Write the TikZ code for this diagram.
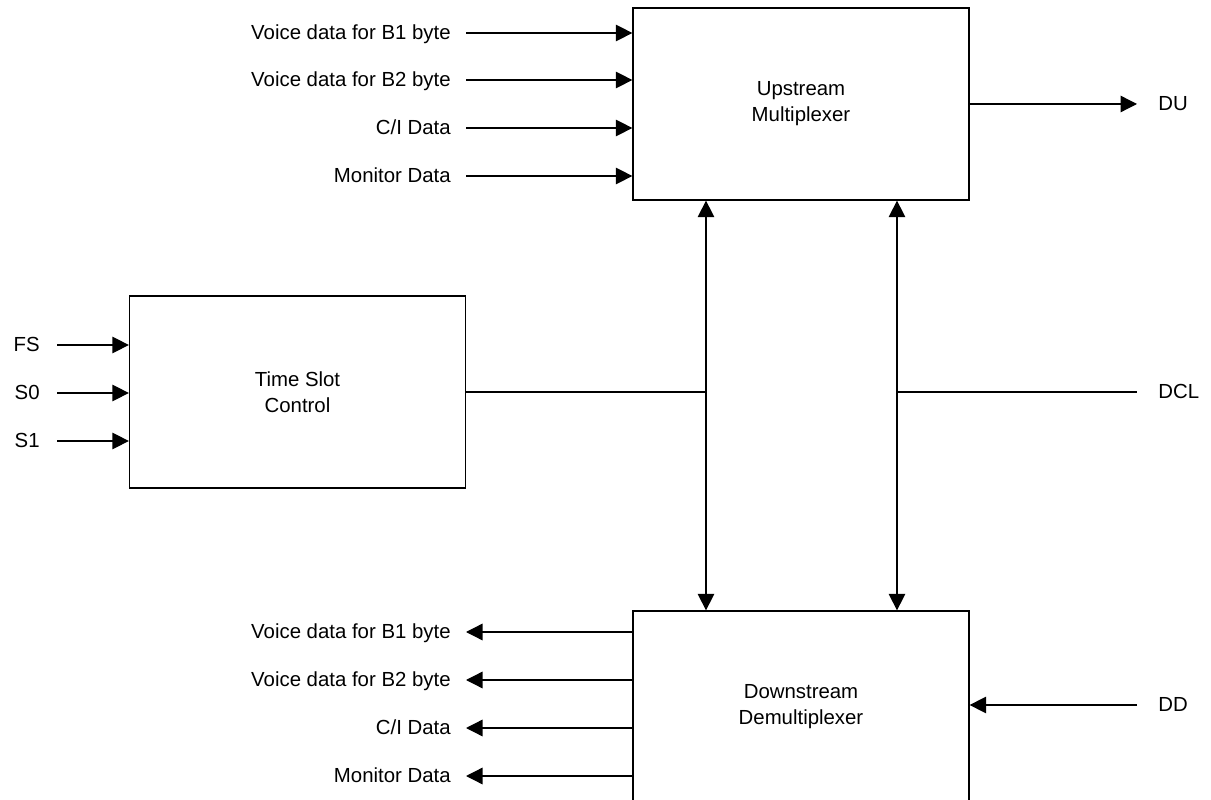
\documentclass[tikz,border=0pt]{standalone}
\usepackage{fontspec}
\setmainfont{Liberation Sans}
\usetikzlibrary{arrows.meta}
\usetikzlibrary{positioning}

\tikzset{
  blk/.style={draw, line width=0.75pt, minimum width=6.72cm, minimum height=3.84cm, align=center, inner sep=0pt},
  wire/.style={line width=0.75pt},
  sig/.style={wire, -{Triangle[length=3.3mm, width=3.3mm]}},
  bus/.style={wire, {Triangle[length=3.3mm, width=3.3mm]}-{Triangle[length=3.3mm, width=3.3mm]}},
  inl/.style={anchor=east, inner ysep=0pt, inner xsep=0.3cm, text height=0.72em, text depth=0pt},
  ctl/.style={anchor=east, inner ysep=0pt, inner xsep=0.34cm, text height=0.72em, text depth=0pt},
  outl/.style={anchor=west, inner ysep=0pt, inner xsep=0.42cm, text height=0.72em, text depth=0pt},
}

\begin{document}
\begin{tikzpicture}[x=0.02cm, y=-0.02cm, font=\fontsize{11.6}{14.8}\selectfont]
\useasboundingbox (0,0) rectangle (1211,800);

\node[blk] (mux) at (801,104) {Upstream\\Multiplexer};
\node[blk] (tsc) at (297.5,392) {Time Slot\\Control};
\node[blk] (dmx) at (801,707) {Downstream\\Demultiplexer};

% upstream inputs
\node[inl] (ub1) at (466,33) {Voice data for B1 byte};
\node[inl] (ub2) at (466,80) {Voice data for B2 byte};
\node[inl] (uci) at (466,128) {C/I Data};
\node[inl] (umon) at (466,176) {Monitor Data};
\draw[sig] (ub1.east) -- (mux.west |- ub1.east);
\draw[sig] (ub2.east) -- (mux.west |- ub2.east);
\draw[sig] (uci.east) -- (mux.west |- uci.east);
\draw[sig] (umon.east) -- (mux.west |- umon.east);

\node[outl] (du) at (1137,104) {DU};
\draw[sig] (mux.east) -- (du.west);

% time slot control
\node[ctl] (fs) at (57,345) {FS};
\node[ctl] (s0) at (57,393) {S0};
\node[ctl] (s1) at (57,441) {S1};
\draw[sig] (fs.east) -- (tsc.west |- fs.east);
\draw[sig] (s0.east) -- (tsc.west |- s0.east);
\draw[sig] (s1.east) -- (tsc.west |- s1.east);

\coordinate (ja) at (706,392);
\coordinate (jb) at (897,392);
\node[outl] (dcl) at (1137,392) {DCL};
\draw[wire] (tsc.east) -- (ja);
\draw[wire] (jb) -- (dcl.west);
\draw[bus] (mux.south -| ja) -- (dmx.north -| ja);
\draw[bus] (mux.south -| jb) -- (dmx.north -| jb);

% downstream outputs
\node[inl] (db1) at (466,632) {Voice data for B1 byte};
\node[inl] (db2) at (466,680) {Voice data for B2 byte};
\node[inl] (dci) at (466,728) {C/I Data};
\node[inl] (dmon) at (466,776) {Monitor Data};
\draw[sig] (dmx.west |- db1.east) -- (db1.east);
\draw[sig] (dmx.west |- db2.east) -- (db2.east);
\draw[sig] (dmx.west |- dci.east) -- (dci.east);
\draw[sig] (dmx.west |- dmon.east) -- (dmon.east);

\node[outl] (dd) at (1137,705) {DD};
\draw[sig] (dd.west) -- (dmx.east |- dd.west);

\end{tikzpicture}
\end{document}
